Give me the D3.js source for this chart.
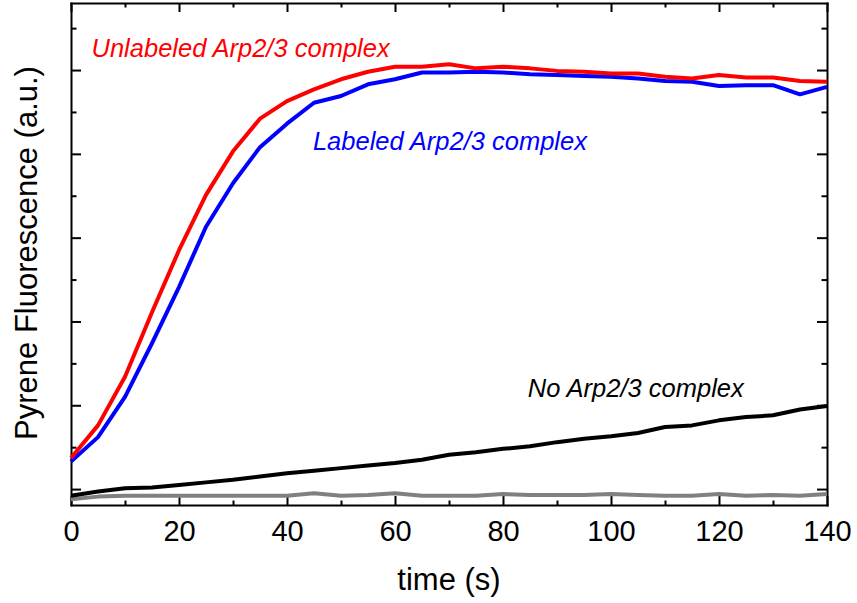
<!DOCTYPE html>
<html>
<head>
<meta charset="utf-8">
<script src="https://d3js.org/d3.v7.min.js"></script>
<style>
    body { margin: 0; background: #fff; }
    #chart text { font-family: "Liberation Sans", Arial, sans-serif; }
    .axis path, .axis line { stroke: #000; stroke-width: 2; }
    .axis text { font-size: 29px; fill: #000; }
    .axis-title { font-size: 31px; fill: #000; }
    .note { font-size: 25.5px; font-style: italic; }
</style>
</head>
<body>
<div id="chart"></div>
<script>
// time points (s)
const time = [0, 5, 10, 15, 20, 25, 30, 35, 40, 45, 50, 55, 60, 65, 70,
              75, 80, 85, 90, 95, 100, 105, 110, 115, 120, 125, 130, 135, 140];

// pyrene fluorescence (a.u.)
const unlabeled = [0.37, 0.76, 1.34, 2.11, 2.85, 3.51, 4.03, 4.42, 4.63, 4.77, 4.89, 4.98, 5.04, 5.04, 5.07,
                   5.02, 5.04, 5.02, 4.99, 4.98, 4.96, 4.96, 4.92, 4.90, 4.94, 4.91, 4.91, 4.87, 4.86];
const labeled = [0.33, 0.62, 1.10, 1.74, 2.41, 3.13, 3.65, 4.08, 4.36, 4.61, 4.69, 4.83, 4.89, 4.97, 4.97,
                 4.98, 4.97, 4.95, 4.94, 4.93, 4.92, 4.90, 4.87, 4.86, 4.81, 4.82, 4.82, 4.71, 4.80];
const noArp = [-0.08, -0.03, 0.01, 0.02, 0.05, 0.08, 0.11, 0.15, 0.19, 0.22, 0.25, 0.28, 0.31, 0.35, 0.41,
               0.44, 0.48, 0.51, 0.56, 0.60, 0.63, 0.67, 0.74, 0.76, 0.82, 0.86, 0.88, 0.95, 0.99];
const baseline = [-0.12, -0.09, -0.08, -0.08, -0.08, -0.08, -0.08, -0.08, -0.08, -0.05, -0.08, -0.07, -0.05, -0.08, -0.08,
                  -0.08, -0.06, -0.07, -0.07, -0.07, -0.06, -0.07, -0.08, -0.08, -0.06, -0.08, -0.07, -0.08, -0.06];

const xMajor = [0, 20, 40, 60, 80, 100, 120, 140];
const xMinor = [10, 30, 50, 70, 90, 110, 130];
const yMajor = [0, 1, 2, 3, 4, 5];
const yMinor = [0.5, 1.5, 2.5, 3.5, 4.5, 5.5];

function createLineChart() {
    const container = d3.select("#chart");
    container.selectAll("*").remove();

    const margin = { top: 3, right: 30, bottom: 98, left: 71 };
    const width = 857 - margin.left - margin.right;
    const height = 603 - margin.top - margin.bottom;

    const svg = container.append("svg")
        .attr("width", 857)
        .attr("height", 603);

    const g = svg.append("g")
        .attr("transform", `translate(${margin.left},${margin.top})`);

    const xScale = d3.scaleLinear().domain([0, 140]).range([0, width]);
    const yScale = d3.scaleLinear().domain([-0.19, 5.8]).range([height, 0]);

    // minor ticks first, then the framed major axes
    g.append("g")
        .attr("class", "axis")
        .attr("transform", `translate(0,${height})`)
        .call(d3.axisBottom(xScale).tickValues(xMinor).tickSize(-4.5).tickFormat(""))
        .select(".domain").remove();
    g.append("g")
        .attr("class", "axis")
        .call(d3.axisTop(xScale).tickValues(xMinor).tickSize(-4.5).tickFormat(""))
        .select(".domain").remove();
    g.append("g")
        .attr("class", "axis")
        .call(d3.axisLeft(yScale).tickValues(yMinor).tickSize(-5.5).tickFormat(""))
        .select(".domain").remove();
    g.append("g")
        .attr("class", "axis")
        .attr("transform", `translate(${width},0)`)
        .call(d3.axisRight(yScale).tickValues(yMinor).tickSize(-5.5).tickFormat(""))
        .select(".domain").remove();

    g.append("g")
        .attr("class", "axis")
        .attr("transform", `translate(0,${height})`)
        .call(d3.axisBottom(xScale).tickValues(xMajor).tickSize(-9).tickSizeOuter(0).tickPadding(15.5))
        .selectAll("text")
        .style("text-anchor", "middle");
    g.append("g")
        .attr("class", "axis")
        .call(d3.axisTop(xScale).tickValues(xMajor).tickSize(-9).tickSizeOuter(0).tickFormat(""));
    g.append("g")
        .attr("class", "axis")
        .call(d3.axisLeft(yScale).tickValues(yMajor).tickSize(-10).tickSizeOuter(0).tickFormat(""));
    g.append("g")
        .attr("class", "axis")
        .attr("transform", `translate(${width},0)`)
        .call(d3.axisRight(yScale).tickValues(yMajor).tickSize(-10).tickSizeOuter(0).tickFormat(""));

    g.selectAll(".axis path").attr("stroke-linecap", "square");

    // axis titles
    svg.append("text")
        .attr("class", "axis-title")
        .attr("transform", "translate(37,253) rotate(-90)")
        .style("text-anchor", "middle")
        .text("Pyrene Fluorescence (a.u.)");

    svg.append("text")
        .attr("class", "axis-title")
        .attr("x", margin.left + width / 2)
        .attr("y", 590)
        .style("text-anchor", "middle")
        .text("time (s)");

    // curves
    const series = [
        { values: baseline, color: "#808080" },
        { values: noArp, color: "#000000" },
        { values: labeled, color: "#0000ff" },
        { values: unlabeled, color: "#ff0000" }
    ];

    const line = d3.line()
        .x((d, i) => xScale(time[i]))
        .y(d => yScale(d));

    g.selectAll(".curve")
        .data(series)
        .enter().append("path")
        .attr("class", "curve")
        .attr("d", d => line(d.values))
        .attr("fill", "none")
        .attr("stroke", d => d.color)
        .attr("stroke-width", 4)
        .attr("stroke-linejoin", "round");

    // annotations
    const notes = [
        { text: "Unlabeled Arp2/3 complex", x: 3.8, y: 5.16, color: "#ff0000" },
        { text: "Labeled Arp2/3 complex", x: 44.8, y: 4.05, color: "#0000ff" },
        { text: "No Arp2/3 complex", x: 84.6, y: 1.1, color: "#000000" }
    ];

    g.selectAll(".note")
        .data(notes)
        .enter().append("text")
        .attr("class", "note")
        .attr("x", d => xScale(d.x))
        .attr("y", d => yScale(d.y))
        .style("fill", d => d.color)
        .text(d => d.text);
}

createLineChart();
</script>
</body>
</html>
